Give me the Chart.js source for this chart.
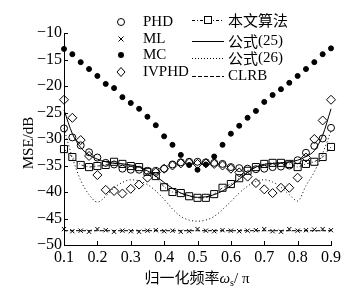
<!DOCTYPE html>
<html lang="zh">
<head>
<meta charset="UTF-8">
<title>MSE vs normalized frequency</title>
<style>
  html, body { margin: 0; padding: 0; background: #fff; }
  canvas { display: block; }
</style>
<script src="https://cdn.jsdelivr.net/npm/chart.js"></script>
</head>
<body>
<canvas id="chart" width="356" height="294"></canvas>
<script>
// normalized frequency (x)
const freq = [0.1, 0.125, 0.15, 0.175, 0.2, 0.225, 0.25, 0.275, 0.3, 0.325, 0.35, 0.375, 0.4, 0.425, 0.45, 0.475,
  0.5, 0.525, 0.55, 0.575, 0.6, 0.625, 0.65, 0.675, 0.7, 0.725, 0.75, 0.775, 0.8, 0.825, 0.85, 0.875, 0.9];

// MSE in dB
const phd = [-28.0, -29.7, -31.2, -32.5, -33.5, -34.5, -34.8, -35.6, -35.8, -35.8, -36.0, -36.0, -35.6, -34.8, -34.4, -34.3,
  -34.3, -34.4, -34.5, -34.7, -35.3, -35.5, -35.6, -35.7, -35.6, -35.3, -35.2, -35.0, -34.0, -32.6, -31.3, -29.9, -27.9];
const ml = [-47.0, -47.4, -47.3, -47.5, -47.0, -47.2, -47.5, -47.3, -47.4, -47.5, -47.3, -47.2, -47.4, -47.3, -47.5, -47.4,
  -47.0, -47.3, -47.4, -47.2, -47.3, -47.4, -47.3, -47.2, -47.0, -47.4, -47.5, -47.0, -47.3, -47.2, -47.1, -47.0, -47.2];
const mc = [-13.0, -14.0, -15.5, -16.8, -18.1, -19.6, -20.4, -22.1, -23.2, -24.3, -25.8, -27.4, -29.5, -31.1, -33.0, -34.9,
  -35.8, -34.8, -33.3, -31.1, -29.0, -27.5, -26.0, -24.7, -23.0, -21.7, -20.6, -19.4, -18.1, -16.8, -15.5, -14.0, -12.9];
const ivphd = [-22.6, -26.0, -30.2, -33.2, -36.8, -39.6, -39.8, -40.3, -39.4, -38.6, -37.3, -36.3, -35.6, -35.0, -34.6, -34.5,
  -34.7, -34.6, -34.7, -35.0, -35.6, -36.3, -37.1, -38.3, -39.5, -40.2, -39.2, -39.2, -37.3, -33.5, -30.0, -26.5, -22.6];
const proposed = [-31.9, -33.4, -34.9, -35.3, -35.1, -34.9, -34.3, -34.7, -35.1, -35.3, -36.2, -37.0, -39.1, -40.0, -40.2, -40.8,
  -41.1, -41.1, -40.4, -39.2, -38.5, -37.4, -36.0, -35.3, -34.7, -34.5, -34.5, -34.7, -35.3, -34.7, -34.3, -33.4, -31.5];
const eq25 = [-24.5, -29.0, -31.6, -33.0, -33.8, -34.3, -34.6, -34.7, -34.9, -35.3, -36.0, -37.0, -38.2, -39.3, -40.2, -40.7,
  -41.0, -40.9, -40.5, -39.8, -38.8, -37.6, -36.3, -35.3, -34.8, -34.6, -34.5, -34.3, -34.0, -33.3, -32.2, -29.3, -24.3];
const eq26 = [-28.0, -33.5, -37.8, -40.5, -41.9, -40.8, -39.2, -38.2, -37.7, -37.9, -38.6, -39.8, -41.4, -43.2, -44.6, -45.3,
  -45.5, -45.3, -44.6, -43.3, -41.8, -40.2, -38.9, -38.0, -37.7, -38.1, -39.1, -40.5, -41.7, -38.8, -36.2, -32.7, -28.5];
const clrb = [-47.3, -47.3, -47.3, -47.3, -47.3, -47.3, -47.3, -47.3, -47.3, -47.3, -47.3, -47.3, -47.3, -47.3, -47.3, -47.3,
  -47.3, -47.3, -47.3, -47.3, -47.3, -47.3, -47.3, -47.3, -47.3, -47.3, -47.3, -47.3, -47.3, -47.3, -47.3, -47.3, -47.3];

const yTicks = [-50, -45, -40, -35, -30, -25, -20, -15, -10];
const xTicks = [0.1, 0.2, 0.3, 0.4, 0.5, 0.6, 0.7, 0.8, 0.9];

const SERIF = '"Liberation Serif", "DejaVu Serif", serif';
const CJK = '"Noto Sans CJK SC", sans-serif';

const pts = arr => arr.map((v, i) => ({ x: freq[i], y: v }));

function markers(label, arr, style, radius, fill, order) {
  return {
    label, data: pts(arr), showLine: false, pointStyle: style, pointRadius: radius,
    pointBorderColor: '#000', pointBackgroundColor: fill, pointBorderWidth: 1, clip: false, order
  };
}
function curve(label, arr, dash, order) {
  return {
    label, data: pts(arr), pointRadius: 0, borderColor: '#000', borderWidth: 1,
    borderDash: dash, cubicInterpolationMode: 'monotone', clip: false, order
  };
}

// ticks pointing inward, axis titles, two-column legend
const extras = {
  id: 'extras',
  afterDraw(chart) {
    const ctx = chart.ctx;
    const sx = chart.scales.x, sy = chart.scales.y;
    ctx.save();
    ctx.strokeStyle = '#000';
    ctx.lineWidth = 1;
    ctx.setLineDash([]);
    ctx.beginPath();
    yTicks.forEach(v => {
      const y = Math.round(sy.getPixelForValue(v)) + 0.5;
      ctx.moveTo(sx.left, y); ctx.lineTo(sx.left + 4, y);
    });
    xTicks.forEach(v => {
      const x = Math.round(sx.getPixelForValue(v)) + 0.5;
      ctx.moveTo(x, sy.bottom); ctx.lineTo(x, sy.bottom - 4);
    });
    ctx.stroke();

    ctx.fillStyle = '#000';
    // y title
    ctx.save();
    ctx.translate(33, (sy.top + sy.bottom) / 2 + 4);
    ctx.rotate(-Math.PI / 2);
    ctx.font = '15px ' + SERIF;
    ctx.textAlign = 'center';
    ctx.textBaseline = 'alphabetic';
    ctx.fillText('MSE/dB', 0, 0);
    ctx.restore();

    // x title: 归一化频率 ω_s / π
    const parts = [
      { t: '归一化频率', f: '15px ' + CJK, dy: 0 },
      { t: 'ω', f: 'italic 15px ' + SERIF, dy: 0 },
      { t: 's', f: '10px ' + SERIF, dy: 3 },
      { t: '/ π', f: '15px ' + SERIF, dy: 0 }
    ];
    let total = 0;
    parts.forEach(p => { ctx.font = p.f; p.w = ctx.measureText(p.t).width; total += p.w; });
    let cx = 197 - total / 2;
    ctx.textAlign = 'left';
    ctx.textBaseline = 'alphabetic';
    parts.forEach(p => { ctx.font = p.f; ctx.fillText(p.t, cx, 283 + p.dy); cx += p.w; });

    // legend, left column
    const lx = 121, tx = 143;
    ctx.lineWidth = 1;
    ctx.beginPath(); ctx.arc(lx, 22, 3.5, 0, Math.PI * 2); ctx.stroke();
    ctx.beginPath();
    ctx.moveTo(lx - 2.5, 36.5); ctx.lineTo(lx + 2.5, 41.5);
    ctx.moveTo(lx + 2.5, 36.5); ctx.lineTo(lx - 2.5, 41.5);
    ctx.stroke();
    ctx.beginPath(); ctx.arc(lx, 55, 3, 0, Math.PI * 2); ctx.fill();
    ctx.beginPath();
    ctx.moveTo(lx, 67.5); ctx.lineTo(lx + 4, 72); ctx.lineTo(lx, 76.5); ctx.lineTo(lx - 4, 72); ctx.closePath();
    ctx.stroke();
    ctx.font = '15px ' + SERIF;
    ctx.textBaseline = 'middle';
    ctx.fillText('PHD', tx, 22);
    ctx.fillText('ML', tx, 39);
    ctx.fillText('MC', tx, 55);
    ctx.fillText('IVPHD', tx, 72);

    // legend, right column
    const x0 = 192, x1 = 224, rtx = 228;
    const sample = (y, dash) => {
      ctx.setLineDash(dash);
      ctx.beginPath(); ctx.moveTo(x0, y + 0.5); ctx.lineTo(x1, y + 0.5); ctx.stroke();
    };
    sample(20, [3, 2, 1, 2]);
    ctx.setLineDash([]);
    ctx.fillStyle = '#fff';
    ctx.fillRect(204.5, 16.5, 7, 7);
    ctx.strokeRect(204.5, 16.5, 7, 7);
    ctx.fillStyle = '#000';
    sample(41, []);
    sample(58, [1, 2]);
    sample(76, [4, 2]);
    ctx.setLineDash([]);
    ctx.font = '15px ' + CJK;
    ctx.fillText('本文算法', rtx, 20);
    const mixed = (y, cn, num) => {
      ctx.font = '15px ' + CJK; ctx.fillText(cn, rtx, y);
      const w = ctx.measureText(cn).width;
      ctx.font = '15px ' + SERIF; ctx.fillText(num, rtx + w, y);
    };
    mixed(41, '公式', '(25)');
    mixed(58, '公式', '(26)');
    ctx.font = '15px ' + SERIF;
    ctx.fillText('CLRB', rtx, 76);
    ctx.restore();
  }
};

new Chart(document.getElementById('chart'), {
  type: 'line',
  data: {
    datasets: [
      markers('PHD', phd, 'circle', 3.5, 'rgba(0,0,0,0)', 1),
      markers('ML', ml, 'crossRot', 3, '#000', 1),
      markers('MC', mc, 'circle', 2.5, '#000', 1),
      markers('IVPHD', ivphd, 'rectRot', 4.5, 'rgba(0,0,0,0)', 1),
      Object.assign(markers('本文算法', proposed, 'rect', 5, 'rgba(0,0,0,0)', 0), {
        showLine: true, borderColor: '#000', borderWidth: 0.8, borderDash: [3, 2, 1, 2]
      }),
      curve('公式(25)', eq25, [], 2),
      curve('公式(26)', eq26, [1, 2.5], 2),
      curve('CLRB', clrb, [4, 2], 2)
    ]
  },
  options: {
    responsive: false,
    animation: false,
    events: [],
    layout: { padding: { left: 0, top: 33, right: 25, bottom: 0 } },
    plugins: { legend: { display: false }, tooltip: { enabled: false } },
    scales: {
      x: {
        type: 'linear', min: 0.1, max: 0.9,
        afterFit: s => { s.height = 49; },
        afterBuildTicks: s => { s.ticks = xTicks.map(v => ({ value: v })); },
        grid: { drawOnChartArea: false, drawTicks: false },
        border: { display: true, color: '#000', width: 1 },
        ticks: {
          color: '#000', padding: 3, maxRotation: 0,
          font: { family: SERIF, size: 16 },
          callback: v => v.toFixed(1)
        }
      },
      y: {
        min: -50, max: -10,
        afterFit: s => { s.width = 64; },
        afterBuildTicks: s => { s.ticks = yTicks.map(v => ({ value: v })); },
        grid: { drawOnChartArea: false, drawTicks: false },
        border: { display: true, color: '#000', width: 1 },
        ticks: {
          color: '#000', padding: 2,
          font: { family: SERIF, size: 16 },
          callback: v => (v < 0 ? '\u2212' : '') + Math.abs(v)
        }
      }
    }
  },
  plugins: [extras]
});
</script>
</body>
</html>
